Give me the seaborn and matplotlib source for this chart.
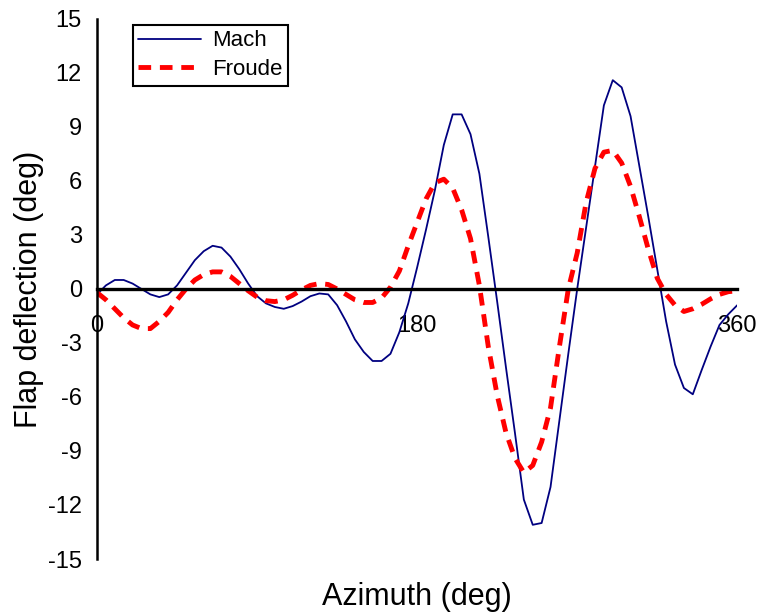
import numpy as np
import pandas as pd
import matplotlib
matplotlib.use("Agg")
import matplotlib.pyplot as plt
import seaborn as sns

# ==========================================
# Data
# ==========================================
azimuth = list(range(0, 365, 5))

mach = [-0.3, 0.2, 0.5, 0.5, 0.3, 0.0, -0.3, -0.45, -0.3, 0.2,
        0.9, 1.6, 2.1, 2.4, 2.3, 1.8, 1.1, 0.3, -0.4, -0.8,
        -1.0, -1.1, -0.95, -0.7, -0.4, -0.25, -0.3, -0.9, -1.8, -2.8,
        -3.5, -4.0, -4.0, -3.6, -2.4, -0.8, 1.2, 3.3, 5.5, 8.0,
        9.7, 9.7, 8.6, 6.4, 2.9, -0.7, -4.4, -8.0, -11.7, -13.1,
        -13.0, -11.0, -7.3, -3.6, 0.0, 3.4, 6.8, 10.2, 11.6, 11.2,
        9.6, 6.8, 4.0, 1.1, -1.8, -4.2, -5.5, -5.85, -4.5, -3.2,
        -2.0, -1.4, -0.9]

froude = [-0.2, -0.6, -1.1, -1.6, -2.0, -2.2, -2.2, -1.8, -1.3, -0.6,
          0.0, 0.5, 0.8, 0.95, 0.95, 0.7, 0.3, -0.1, -0.45, -0.65,
          -0.7, -0.6, -0.35, -0.05, 0.2, 0.3, 0.25, 0.0, -0.3, -0.6,
          -0.75, -0.75, -0.5, 0.1, 1.0, 2.4, 3.7, 5.0, 5.9, 6.1,
          5.6, 4.4, 2.8, 0.2, -3.2, -5.9, -8.0, -9.4, -10.2, -9.8,
          -8.5, -6.6, -3.2, 0.0, 2.0, 4.8, 6.7, 7.6, 7.7, 7.0,
          5.7, 4.0, 2.2, 0.6, -0.3, -0.9, -1.25, -1.1, -0.85, -0.55,
          -0.3, -0.15, -0.1]

x_ticks = [0, 180, 360]
y_ticks = list(range(-15, 16, 3))

# ==========================================
# Plot
# ==========================================
sns.set_style("white")
plt.rcParams['font.family'] = ['Liberation Sans', 'DejaVu Sans']
plt.rcParams['axes.unicode_minus'] = False
plt.rcParams['text.color'] = 'black'
plt.rcParams['axes.labelcolor'] = 'black'

fig = plt.figure(figsize=(7.64, 6.12), dpi=100)
ax = fig.add_axes([0.127, 0.0866, 0.838, 0.8824])

sns.lineplot(x=azimuth, y=mach, ax=ax, color='#000080', linewidth=1.3, label='Mach')
sns.lineplot(x=azimuth, y=froude, ax=ax, color='#ff0000', linewidth=3.5,
             linestyle=(0, (2.6, 1.8)), label='Froude')

ax.set_xlim(0, 360)
ax.set_ylim(-15, 15)
ax.set_xticks(x_ticks)
ax.set_yticks(y_ticks)

# axis styling: x axis runs through zero
ax.spines['top'].set_visible(False)
ax.spines['right'].set_visible(False)
ax.spines['bottom'].set_position(('data', 0))
ax.spines['bottom'].set_linewidth(2.4)
ax.spines['left'].set_linewidth(1.8)
ax.spines['bottom'].set_color('black')
ax.spines['left'].set_color('black')
ax.tick_params(axis='both', direction='out', length=5, width=1.8, labelsize=17, colors='black')
ax.tick_params(axis='x', pad=14)
ax.tick_params(axis='y', pad=6)

ax.set_xlabel('Azimuth (deg)', fontsize=22, color='black')
ax.set_ylabel('Flap deflection (deg)', fontsize=22, color='black')
ax.xaxis.set_label_coords(0.5, -0.043)
ax.yaxis.set_label_coords(-0.083, 0.5)

leg = ax.legend(loc='upper left', bbox_to_anchor=(0.056, 0.989), borderaxespad=0,
                fontsize=16, handlelength=2.8, handletextpad=0.5, fancybox=False,
                framealpha=1, borderpad=0.25, labelspacing=0.35)
leg.get_frame().set_edgecolor('black')
leg.get_frame().set_linewidth(1.5)
for t in leg.get_texts():
    t.set_color('black')

fig.savefig('out.png', dpi=100)
plt.close(fig)
